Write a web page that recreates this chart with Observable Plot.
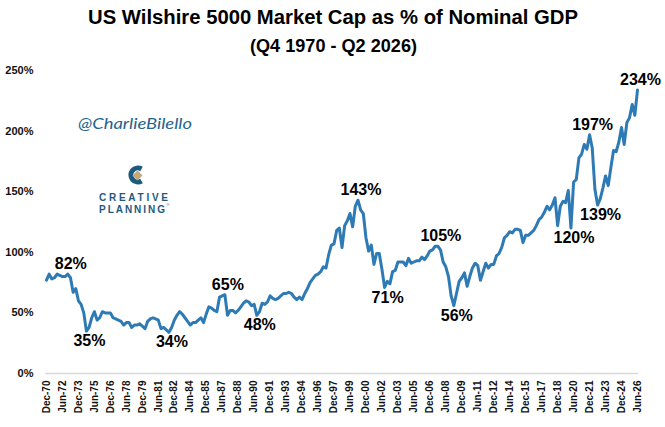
<!DOCTYPE html>
<html>
<head>
<meta charset="utf-8">
<script src="https://cdn.jsdelivr.net/npm/d3@7"></script>
<script src="https://cdn.jsdelivr.net/npm/@observablehq/plot@0.6"></script>
<style>
html,body{margin:0;padding:0;background:#fff;}
#wrap{position:relative;width:665px;height:427px;overflow:hidden;background:#fff;}
#head{position:absolute;left:0;top:0;}
#chart{position:absolute;left:0;top:60px;}
#overlay{position:absolute;left:0;top:0;pointer-events:none;}
</style>
</head>
<body>
<div id="wrap">
  <svg id="head" width="665" height="60" xmlns="http://www.w3.org/2000/svg">
    <text x="88" y="23.5" textLength="490" lengthAdjust="spacingAndGlyphs" font-family="Liberation Sans, Arial, sans-serif" font-weight="bold" font-size="20" fill="#000">US Wilshire 5000 Market Cap as % of Nominal GDP</text>
    <text x="250" y="52" textLength="167" lengthAdjust="spacingAndGlyphs" font-family="Liberation Sans, Arial, sans-serif" font-weight="bold" font-size="19" fill="#000">(Q4 1970 - Q2 2026)</text>
  </svg>
  <div id="chart"></div>
  <svg id="overlay" width="665" height="427" xmlns="http://www.w3.org/2000/svg">
    <text x="78" y="128.5" textLength="114" lengthAdjust="spacingAndGlyphs" font-family="Lato, Noto Sans, sans-serif" font-style="italic" font-size="16" fill="#24648f">@CharlieBilello</text>
    <path d="M 141.5 169 A 7 7 0 1 0 141.5 181" fill="none" stroke="#1d5b7e" stroke-width="5"/>
    <polygon points="137.5,170.5 142.5,175.5 137.5,180.5 132.5,175.5" fill="#c5a877"/>
    <text x="99" y="201" textLength="69" lengthAdjust="spacing" font-family="Liberation Sans, Arial, sans-serif" font-weight="bold" font-size="10" fill="#1d5b7e">CREATIVE</text>
    <text x="99" y="212.5" textLength="66" lengthAdjust="spacing" font-family="Liberation Sans, Arial, sans-serif" font-weight="bold" font-size="10" fill="#1d5b7e">PLANNING</text>
    <text x="166.5" y="206" font-family="Liberation Sans, Arial, sans-serif" font-size="4" fill="#1d5b7e">®</text>
  </svg>
</div>
<script>
// Quarterly market cap / GDP (%), Q4 1970 ... Q2 2026
const values = [
  77, 82, 78, 79, 82, 81, 80, 80, 82, 79,
  67, 70, 60, 57, 50, 35, 38, 46, 51, 44,
  46, 51, 50, 50, 50, 46, 45, 44, 43, 40,
  42, 42, 38, 40, 40, 41, 39, 37, 43, 45,
  46, 45, 44, 37, 38, 36, 34, 38, 44, 48,
  51, 49, 46, 43, 40, 42, 42, 44, 46, 42,
  49, 55, 54, 52, 51, 63, 64, 65, 48, 52,
  52, 50, 52, 55, 58, 60, 59, 56, 57, 48,
  51, 58, 57, 59, 64, 62, 61, 62, 64, 66,
  66, 67, 66, 63, 61, 63, 61, 66, 70, 75,
  78, 81, 82, 84, 88, 87, 98, 106, 107, 118,
  120, 104, 122, 126, 132, 121, 138, 143, 135, 132,
  112, 101, 106, 90, 99, 99, 86, 71, 76, 74,
  84, 85, 92, 92, 92, 89, 95, 91, 92, 93,
  93, 96, 94, 97, 101, 102, 105, 105, 102, 92,
  88, 80, 64, 56, 66, 76, 79, 83, 72, 80,
  87, 91, 89, 77, 84, 91, 87, 90, 90, 97,
  99, 104, 112, 114, 117, 116, 119, 119, 118, 108,
  114, 114, 116, 118, 122, 127, 129, 133, 138, 135,
  139, 145, 122, 138, 142, 141, 151, 120, 158, 160,
  178, 181, 189, 185, 197, 186, 152, 139, 144, 153,
  163, 155, 170, 184, 183, 191, 203, 189, 207, 211,
  222, 213, 234
];

// Tick labels (every 6th quarter starting Dec-70)
const tickLabels = [
  "Dec-70","Jun-72","Dec-73","Jun-75","Dec-76","Jun-78","Dec-79","Jun-81",
  "Dec-82","Jun-84","Dec-85","Jun-87","Dec-88","Jun-90","Dec-91","Jun-93",
  "Dec-94","Jun-96","Dec-97","Jun-99","Dec-00","Jun-02","Dec-03","Jun-05",
  "Dec-06","Jun-08","Dec-09","Jun-11","Dec-12","Jun-14","Dec-15","Jun-17",
  "Dec-18","Jun-20","Dec-21","Jun-23","Dec-24","Jun-26"
];
const tickStep = 6;
const yTicks = [0, 50, 100, 150, 200, 250];

// Annotated peaks / troughs (quarter index) and side of the line
const annIndex = [8, 15, 46, 67, 79, 117, 127, 147, 153, 197, 204, 207, 222];
const annSide  = ["above","below","below","above","below","above","below","above","below","below","above","below","above"];

const series = values.map((v, i) => ({i, v}));
const ann = annIndex.map((i, k) => ({i, v: values[i], side: annSide[k], label: values[i] + "%"}));
const xTicks = tickLabels.map((_, k) => k * tickStep);

const chart = Plot.plot({
  width: 665,
  height: 367,
  marginTop: 10,
  marginBottom: 54,
  marginLeft: 46,
  marginRight: 28,
  style: {fontFamily: "Liberation Sans, Arial, sans-serif", background: "#fff"},
  x: {domain: [0, values.length - 1]},
  y: {domain: [0, 250]},
  marks: [
    Plot.ruleY([0], {x1: -0.4, x2: values.length - 0.6, stroke: "#d9d9d9", strokeWidth: 1.5}),
    Plot.axisY({ticks: yTicks, tickSize: 0, tickPadding: 13, tickFormat: d => d + "%",
      fontSize: 11, fontWeight: "bold", fill: "#111", label: null}),
    Plot.axisX({ticks: xTicks, tickSize: 0, tickPadding: 7, tickRotate: -90,
      tickFormat: d => tickLabels[d / tickStep], fontSize: 10, fontWeight: "bold", fill: "#111", label: null}),
    Plot.lineY(series, {x: "i", y: "v", stroke: "#2e7ab5", strokeWidth: 3, strokeLinejoin: "round"}),
    Plot.text(ann.filter(d => d.side === "above"), {x: "i", y: "v", text: "label", dy: -10, dx: 3,
      fontSize: 16, fontWeight: "bold", fill: "#000"}),
    Plot.text(ann.filter(d => d.side === "below"), {x: "i", y: "v", text: "label", dy: 10, dx: 3,
      fontSize: 16, fontWeight: "bold", fill: "#000"})
  ]
});
document.getElementById("chart").appendChild(chart);
</script>
</body>
</html>
